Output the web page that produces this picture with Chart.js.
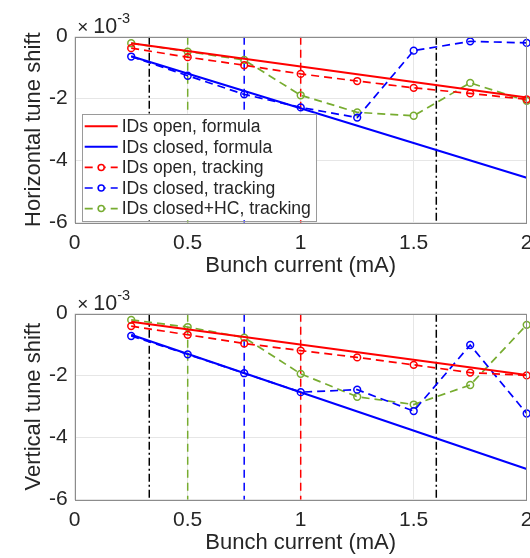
<!DOCTYPE html>
<html>
<head>
<meta charset="utf-8">
<script src="https://cdn.jsdelivr.net/npm/chart.js@4"></script>
<style>
  body { margin: 0; background: #fff; }
  .plot { position: absolute; left: 0; width: 530px; height: 279px; }
</style>
</head>
<body>
<div class="plot" style="top:0"><canvas id="tune_shift_h" width="530" height="279"></canvas></div>
<div class="plot" style="top:277px"><canvas id="tune_shift_v" width="530" height="279"></canvas></div>
<script>
// Bunch current (mA) of the tracking runs and of the formula end points
const currents = [0.25, 0.5, 0.75, 1, 1.25, 1.5, 1.75, 2];
const formulaCurrents = [0.25, 2];
// Currents marked with vertical lines
const markerCurrents = [0.33, 0.5, 0.75, 1, 1.6];

// Horizontal tune shift, in units of 1e-3
const hOpenFormula = [-0.21, -1.96];
const hClosedFormula = [-0.63, -4.55];
const hOpenTracking = [-0.37, -0.66, -0.92, -1.2, -1.43, -1.65, -1.83, -2.02];
const hClosedTracking = [-0.64, -1.26, -1.86, -2.28, -2.61, -0.45, -0.15, -0.2];
const hClosedHcTracking = [-0.21, -0.48, -0.75, -1.89, -2.44, -2.55, -1.49, -2.07];

// Vertical tune shift, in units of 1e-3
const vOpenFormula = [-0.26, -1.98];
const vClosedFormula = [-0.68, -5.01];
const vOpenTracking = [-0.4, -0.68, -0.96, -1.19, -1.41, -1.65, -1.9, -1.99];
const vClosedTracking = [-0.72, -1.31, -1.92, -2.53, -2.45, -3.14, -1.01, -3.22];
const vClosedHcTracking = [-0.2, -0.43, -0.77, -1.94, -2.68, -2.93, -2.3, -0.36];

const seriesLabels = ['IDs open, formula', 'IDs closed, formula', 'IDs open, tracking',
                      'IDs closed, tracking', 'IDs closed+HC, tracking'];
const xTicks = [0, 0.5, 1, 1.5, 2];
const yTicks = [0, -2, -4, -6];

const RED = '#ff0000';
const BLUE = '#0000ff';
const GREEN = '#77ac30';
const TEXT = '#262626';
const FONT = "'Liberation Sans', Arial, sans-serif";

const markerStyles = [
    { color: '#000000', dash: [8, 3, 2, 3] },
    { color: GREEN, dash: [8, 5] },
    { color: BLUE, dash: [8, 5] },
    { color: RED, dash: [8, 5] },
    { color: '#000000', dash: [8, 3, 2, 3] },
];

function points(xs, ys) {
    return xs.map((x, i) => ({ x: x, y: ys[i] }));
}

function formulaSet(label, color, ys) {
    return {
        label: label, data: points(formulaCurrents, ys),
        borderColor: color, borderWidth: 2, pointRadius: 0, clip: false,
    };
}

function trackingSet(label, color, ys) {
    return {
        label: label, data: points(currents, ys),
        borderColor: color, borderWidth: 1.7, borderDash: [8, 5],
        pointRadius: 3.4, pointBorderWidth: 1.5, pointBorderColor: color,
        pointBackgroundColor: 'rgba(0,0,0,0)', clip: false,
    };
}

function markerSets() {
    return markerCurrents.map((x, i) => ({
        label: '', data: [{ x: x, y: yTicks[0] }, { x: x, y: yTicks[yTicks.length - 1] }],
        borderColor: markerStyles[i].color, borderDash: markerStyles[i].dash,
        borderWidth: 1.5, pointRadius: 0, isMarker: true,
    }));
}

// Box around the axes plus the "x10^-3" exponent label
const axesBox = {
    id: 'axesBox',
    afterDraw(chart) {
        const { ctx, chartArea: a } = chart;
        ctx.save();
        ctx.strokeStyle = '#8c8c8c';
        ctx.lineWidth = 1;
        ctx.strokeRect(Math.round(a.left) + 0.5, Math.round(a.top) + 0.5,
                       Math.round(a.right - a.left) - 1, Math.round(a.bottom - a.top));
        ctx.fillStyle = TEXT;
        ctx.textBaseline = 'alphabetic';
        ctx.font = '19px ' + FONT;
        ctx.fillText('\u00d7', a.left + 2.5, a.top - 4);
        ctx.font = '21.5px ' + FONT;
        ctx.fillText('10', a.left + 18.5, a.top - 3.5);
        ctx.font = '14.5px ' + FONT;
        ctx.fillText('-3', a.left + 42.5, a.top - 13.5);
        ctx.restore();
    }
};

// Legend drawn inside the lower-left corner of the axes
const insideLegend = {
    id: 'insideLegend',
    afterDraw(chart) {
        const { ctx, chartArea: a } = chart;
        const sets = chart.data.datasets.filter(d => !d.isMarker);
        const rowH = 20.6;
        ctx.save();
        ctx.font = '17.6px ' + FONT;
        const textW = Math.max(...sets.map(d => ctx.measureText(d.label).width));
        const left = a.left + 7, bottom = a.bottom - 2.5;
        const width = textW + 45, height = rowH * sets.length + 3.5;
        const top = bottom - height;
        ctx.fillStyle = '#ffffff';
        ctx.fillRect(left, top, width, height);
        ctx.strokeStyle = '#9a9a9a';
        ctx.lineWidth = 1;
        ctx.strokeRect(Math.round(left) + 0.5, Math.round(top) + 0.5, Math.round(width), Math.round(height));
        sets.forEach((d, i) => {
            const y = top + 12.5 + i * rowH;
            ctx.strokeStyle = d.borderColor;
            ctx.lineWidth = d.borderWidth;
            ctx.setLineDash(d.borderDash || []);
            ctx.beginPath();
            ctx.moveTo(left + 3, y);
            ctx.lineTo(left + 36, y);
            ctx.stroke();
            ctx.setLineDash([]);
            if (d.pointRadius) {
                ctx.lineWidth = d.pointBorderWidth;
                ctx.beginPath();
                ctx.arc(left + 19.5, y, 3, 0, Math.PI * 2);
                ctx.fillStyle = '#ffffff';
                ctx.fill();
                ctx.stroke();
            }
            ctx.fillStyle = TEXT;
            ctx.textBaseline = 'middle';
            ctx.fillText(d.label, left + 40, y + 1);
        });
        ctx.restore();
    }
};

function tuneShiftChart(id, yTitle, sets, withLegend) {
    const ctx = document.getElementById(id);

    new Chart(ctx, {
        type: 'line',
        data: { datasets: sets.concat(markerSets()) },
        options: {
            responsive: false,
            animation: false,
            events: [],
            layout: { autoPadding: false, padding: { top: 36.7, right: 3.3, bottom: 0, left: 0 } },
            plugins: {
                legend: { display: false },
                tooltip: { enabled: false },
            },
            scales: {
                x: {
                    type: 'linear', min: 0, max: 2,
                    afterBuildTicks: s => { s.ticks = xTicks.map(v => ({ value: v })); },
                    afterFit: s => { s.height = 56.3; s.paddingLeft = 0; s.paddingRight = 0; },
                    border: { display: false },
                    grid: { color: '#e6e6e6', drawTicks: false },
                    ticks: { color: TEXT, padding: 8, maxRotation: 0, callback: v => String(v),
                             font: { family: FONT, size: 21 } },
                    title: { display: true, text: 'Bunch current (mA)', color: TEXT, padding: 0,
                             font: { family: FONT, size: 22 } },
                },
                y: {
                    type: 'linear', min: -6, max: 0,
                    afterBuildTicks: s => { s.ticks = yTicks.map(v => ({ value: v })); },
                    afterFit: s => { s.width = 74.7; },
                    border: { display: false },
                    grid: { color: '#e6e6e6', drawTicks: false },
                    ticks: { color: TEXT, padding: 7, callback: v => String(v),
                             font: { family: FONT, size: 21 } },
                    title: { display: true, text: yTitle, color: TEXT, padding: { top: 20.5 },
                             font: { family: FONT, size: 22 } },
                },
            },
        },
        plugins: withLegend ? [axesBox, insideLegend] : [axesBox],
    });
}

tuneShiftChart('tune_shift_h', 'Horizontal tune shift', [
    formulaSet(seriesLabels[0], RED, hOpenFormula),
    formulaSet(seriesLabels[1], BLUE, hClosedFormula),
    trackingSet(seriesLabels[2], RED, hOpenTracking),
    trackingSet(seriesLabels[3], BLUE, hClosedTracking),
    trackingSet(seriesLabels[4], GREEN, hClosedHcTracking),
], true);

tuneShiftChart('tune_shift_v', 'Vertical tune shift', [
    formulaSet(seriesLabels[0], RED, vOpenFormula),
    formulaSet(seriesLabels[1], BLUE, vClosedFormula),
    trackingSet(seriesLabels[2], RED, vOpenTracking),
    trackingSet(seriesLabels[3], BLUE, vClosedTracking),
    trackingSet(seriesLabels[4], GREEN, vClosedHcTracking),
], false);
</script>
</body>
</html>
